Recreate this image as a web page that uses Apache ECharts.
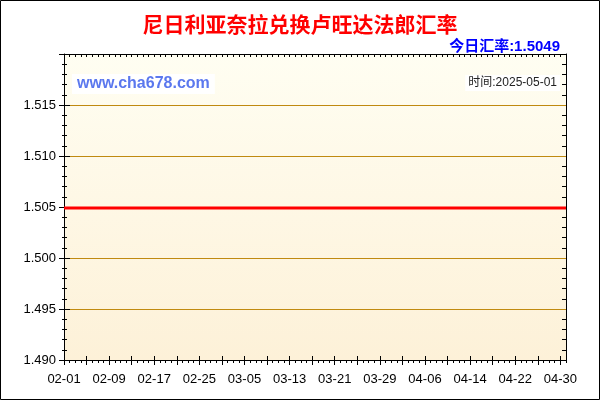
<!DOCTYPE html>
<html>
<head>
<meta charset="utf-8">
<script src="https://cdn.jsdelivr.net/npm/echarts@6/dist/echarts.min.js"></script>
<style>
html,body{margin:0;padding:0;background:#fff;}
#chart{width:600px;height:400px;}
</style>
</head>
<body>
<div id="chart"></div>
<script>
var titleText = '尼日利亚奈拉兑换卢旺达法郎汇率'
var todayText = '今日汇率:1.5049'
var siteText = 'www.cha678.com'
var dateText = '时间:2025-05-01'

var dates = [
	'02-01','02-02','02-03','02-04','02-05','02-06','02-07','02-08','02-09','02-10',
	'02-11','02-12','02-13','02-14','02-15','02-16','02-17','02-18','02-19','02-20',
	'02-21','02-22','02-23','02-24','02-25','02-26','02-27','02-28',
	'03-01','03-02','03-03','03-04','03-05','03-06','03-07','03-08','03-09','03-10',
	'03-11','03-12','03-13','03-14','03-15','03-16','03-17','03-18','03-19','03-20',
	'03-21','03-22','03-23','03-24','03-25','03-26','03-27','03-28','03-29','03-30','03-31',
	'04-01','04-02','04-03','04-04','04-05','04-06','04-07','04-08','04-09','04-10',
	'04-11','04-12','04-13','04-14','04-15','04-16','04-17','04-18','04-19','04-20',
	'04-21','04-22','04-23','04-24','04-25','04-26','04-27','04-28','04-29','04-30',
	'05-01'
]

// labels shown under the axis
var tickLabels = ['02-01','02-09','02-17','02-25','03-05','03-13','03-21','03-29','04-06','04-14','04-22','04-30']

var rates = [
	1.5049,1.5049,1.5049,1.5049,1.5049,1.5049,1.5049,1.5049,1.5049,1.5049,
	1.5049,1.5049,1.5049,1.5049,1.5049,1.5049,1.5049,1.5049,1.5049,1.5049,
	1.5049,1.5049,1.5049,1.5049,1.5049,1.5049,1.5049,1.5049,
	1.5049,1.5049,1.5049,1.5049,1.5049,1.5049,1.5049,1.5049,1.5049,1.5049,
	1.5049,1.5049,1.5049,1.5049,1.5049,1.5049,1.5049,1.5049,1.5049,1.5049,
	1.5049,1.5049,1.5049,1.5049,1.5049,1.5049,1.5049,1.5049,1.5049,1.5049,1.5049,
	1.5049,1.5049,1.5049,1.5049,1.5049,1.5049,1.5049,1.5049,1.5049,1.5049,
	1.5049,1.5049,1.5049,1.5049,1.5049,1.5049,1.5049,1.5049,1.5049,1.5049,
	1.5049,1.5049,1.5049,1.5049,1.5049,1.5049,1.5049,1.5049,1.5049,1.5049,
	1.5049
]

var yMin = 1.490, yMax = 1.520, yStep = 0.005

var font = '"Liberation Sans", Arial, "Noto Sans CJK SC", sans-serif'

function tickAxis(pos, inside, len, every, show) {
	return {
		type: 'category',
		position: pos,
		data: dates,
		boundaryGap: false,
		axisLine: {show: show, lineStyle: {color: '#000', width: 1}},
		axisLabel: {show: false},
		axisTick: {show: true, inside: inside, length: len, interval: every, lineStyle: {color: '#000'}},
		splitLine: {show: false}
	}
}

function valAxis(pos, inside, len, minorLen, show) {
	return {
		type: 'value',
		position: pos,
		min: yMin,
		max: yMax,
		interval: yStep,
		axisLine: {show: show, lineStyle: {color: '#000', width: 1}},
		axisLabel: {show: false},
		axisTick: {show: true, inside: inside, length: len, lineStyle: {color: '#000'}},
		minorTick: {show: true, splitNumber: 5, length: minorLen, lineStyle: {color: '#000'}},
		splitLine: {show: false}
	}
}

var chart = echarts.init(document.getElementById('chart'))

var option = {
	animation: false,
	backgroundColor: '#fff',
	textStyle: {fontFamily: font},
	title: [
		{
			text: titleText, left: 'center', top: 11,
			textStyle: {color: '#ff0000', fontSize: 21, fontWeight: 'bold', fontFamily: font}
		},
		{
			text: todayText, right: 35, top: 34,
			textStyle: {color: '#0000ff', fontSize: 15, fontWeight: 'bold', fontFamily: font}
		},
		{
			text: siteText, left: 72, top: 74, padding: [2, 5],
			backgroundColor: '#ffffff',
			textStyle: {color: '#5b78ee', fontSize: 16, fontWeight: 'bold', fontFamily: font}
		},
		{
			text: dateText, right: 40, top: 75, padding: [2, 3],
			backgroundColor: '#ffffff',
			textStyle: {color: '#222', fontSize: 12, fontWeight: 'normal', fontFamily: font}
		}
	],
	grid: {
		left: 64, right: 34, top: 54, bottom: 40,
		show: true,
		borderWidth: 0,
		backgroundColor: new echarts.graphic.LinearGradient(0, 0, 0, 1, [
			{offset: 0, color: '#fffef2'},
			{offset: 1, color: '#fdf1d8'}
		])
	},
	xAxis: [
		{
			type: 'category',
			position: 'bottom',
			data: dates,
			boundaryGap: false,
			axisLine: {show: true, onZero: false, lineStyle: {color: '#000', width: 1}},
			axisLabel: {
				show: true, color: '#000', fontSize: 13, margin: 13, fontFamily: font,
				interval: function (i, name) { return tickLabels.indexOf(name) >= 0 }
			},
			axisTick: {show: true, length: 5, interval: 3, lineStyle: {color: '#000'}},
			splitLine: {show: false}
		},
		tickAxis('bottom', false, 3, 0, false),
		tickAxis('bottom', true, 4, 3, false),
		tickAxis('top', true, 3, 0, true)
	],
	yAxis: [
		{
			type: 'value',
			position: 'left',
			min: yMin,
			max: yMax,
			interval: yStep,
			axisLine: {show: true, lineStyle: {color: '#000', width: 1}},
			axisLabel: {
				show: true, color: '#000', fontSize: 13, margin: 8,
				showMaxLabel: false, fontFamily: font,
				formatter: function (v) { return v.toFixed(3) }
			},
			axisTick: {show: true, length: 5, lineStyle: {color: '#000'}},
			minorTick: {show: true, splitNumber: 5, length: 2, lineStyle: {color: '#000'}},
			splitLine: {show: true, lineStyle: {color: '#c08a10', width: 1}}
		},
		valAxis('left', true, 6, 3, false),
		valAxis('right', true, 0, 4, true)
	],
	series: [
		{
			type: 'line',
			data: rates,
			xAxisIndex: 0,
			yAxisIndex: 0,
			symbol: 'none',
			lineStyle: {color: '#ff0000', width: 3},
			z: 5
		}
	],
	graphic: [
		{
			type: 'rect',
			shape: {x: 0.5, y: 0.5, width: 599, height: 399},
			style: {fill: 'none', stroke: '#000', lineWidth: 1},
			silent: true
		}
	]
}

chart.setOption(option)
</script>
</body>
</html>
